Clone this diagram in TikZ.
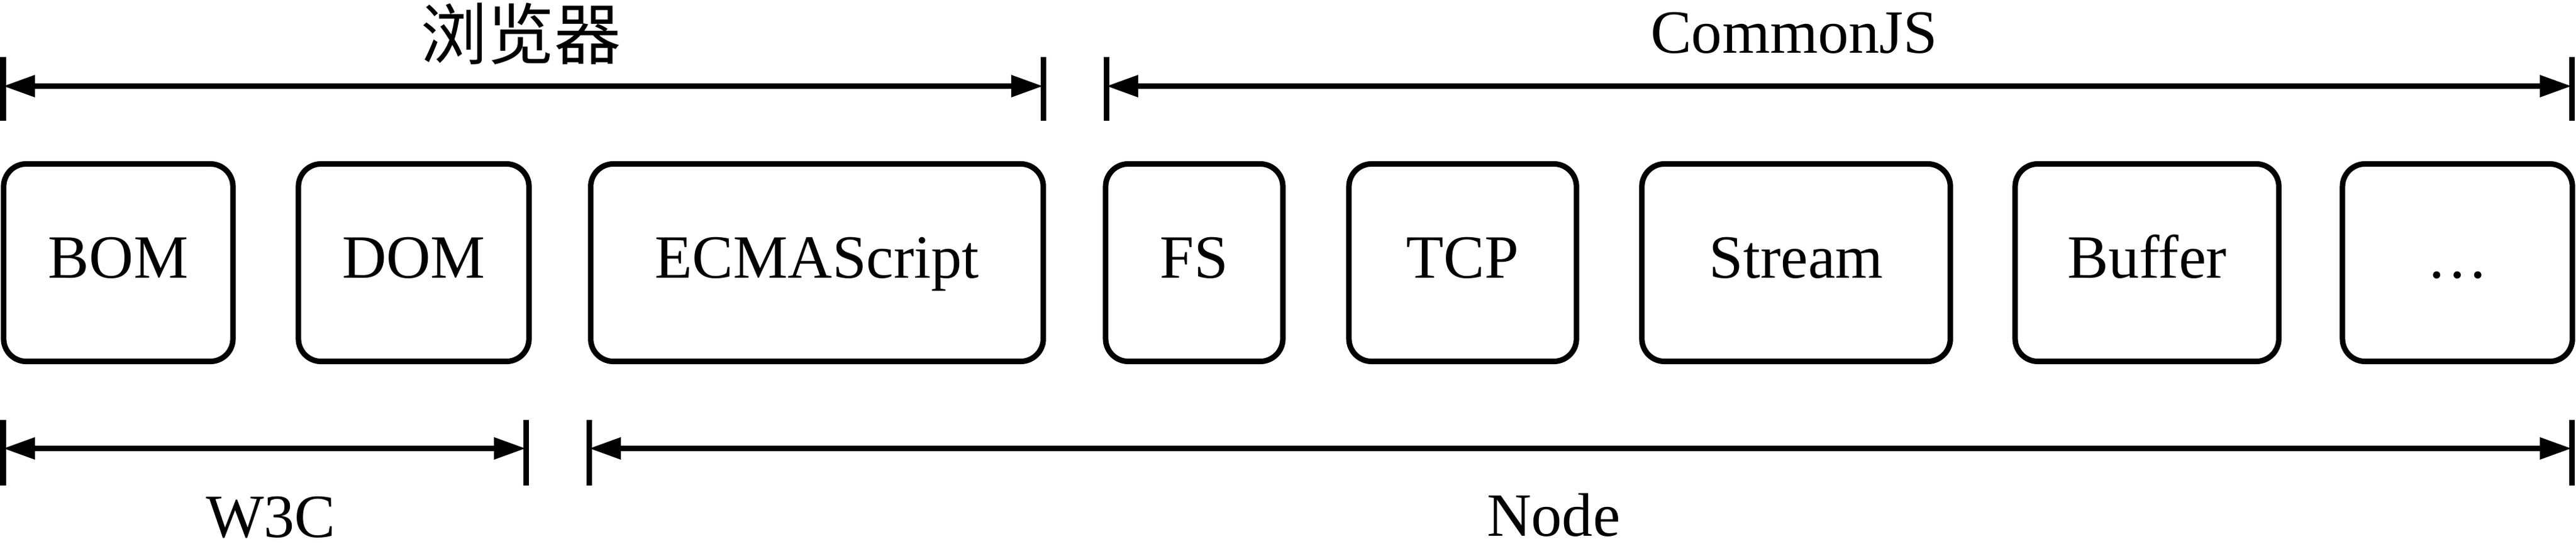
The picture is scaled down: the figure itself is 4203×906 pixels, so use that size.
\documentclass[tikz,border=0pt]{standalone}
\usepackage{fontspec}
\setmainfont{Liberation Serif}
\newfontfamily\cjk{Noto Sans CJK SC}
\usetikzlibrary{arrows.meta}

\begin{document}
\begin{tikzpicture}[x=0.01cm,y=-0.01cm,font=\fontsize{28.5pt}{34pt}\selectfont,
  modulo/.style={draw,line width=2.56pt,rounded corners=0.37cm,minimum height=3.22cm,
    inner sep=0pt,text height=0.49cm,text depth=0pt},
  quota/.style={line width=2.56pt,
    {Triangle[length=0.52cm,width=0.34cm]}-{Triangle[length=0.52cm,width=0.34cm]}},
  tacca/.style={line width=2.56pt}]

\useasboundingbox (0,0) rectangle (4203,906);

%Browser
\begin{scope}
\coordinate (b1) at (5,140.5);
\coordinate (b2) at (1702,140.5);
\draw[tacca] (b1) +(0,-48) -- +(0,56);
\draw[tacca] (b2) +(0,-48) -- +(0,56);
\draw[quota] (b1) -- (b2);
\node (lb) at (850,55) {\cjk\fontsize{31pt}{36pt}\selectfont 浏览器};
\end{scope}

%CommonJS
\begin{scope}
\coordinate (c1) at (1805,140.5);
\coordinate (c2) at (4196,140.5);
\draw[tacca] (c1) +(0,-48) -- +(0,56);
\draw[tacca] (c2) +(0,-48) -- +(0,56);
\draw[quota] (c1) -- (c2);
\node[anchor=base] (lc) at (2927,87) {CommonJS};
\end{scope}

%Moduli
\node[modulo,minimum width=3.74cm] (bom) at (193,428.5) {BOM};
\node[modulo,minimum width=3.76cm] (dom) at (675,428.5) {DOM};
\node[modulo,minimum width=7.38cm] (ecma) at (1333,428.5) {ECMAScript};
\node[modulo,minimum width=2.89cm] (fs) at (1948.5,428.5) {FS};
\node[modulo,minimum width=3.71cm] (tcp) at (2386.5,428.5) {TCP};
\node[modulo,minimum width=5.03cm] (stream) at (2930.5,428.5) {Stream};
\node[modulo,minimum width=4.30cm] (buffer) at (3503,428.5) {Buffer};
\node[modulo,minimum width=3.75cm] (altro) at (4009.5,428.5) {…};

%W3C
\begin{scope}
\coordinate (w1) at (5,731.5);
\coordinate (w2) at (858,731.5);
\draw[tacca] (w1) +(0,-47) -- +(0,60);
\draw[tacca] (w2) +(0,-47) -- +(0,60);
\draw[quota] (w1) -- (w2);
\node[anchor=base] (lw) at (442,876) {W3C};
\end{scope}

%Node
\begin{scope}
\coordinate (n1) at (961,731.5);
\coordinate (n2) at (4196,731.5);
\draw[tacca] (n1) +(0,-47) -- +(0,60);
\draw[tacca] (n2) +(0,-47) -- +(0,60);
\draw[quota] (n1) -- (n2);
\node[anchor=base] (ln) at (2535,874) {Node};
\end{scope}

\end{tikzpicture}
\end{document}
